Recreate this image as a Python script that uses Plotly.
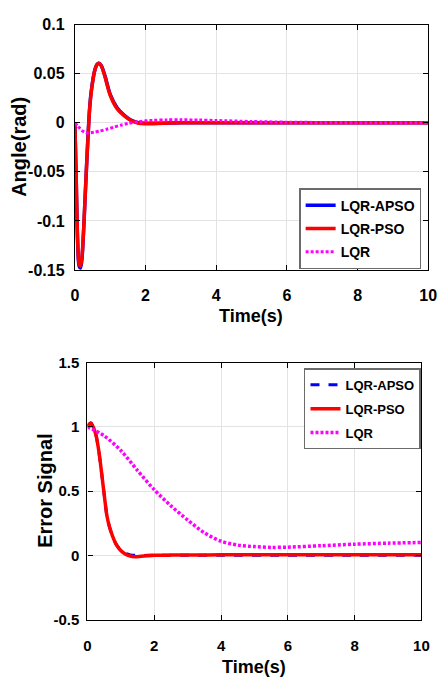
import plotly.graph_objects as go

# ---------------- data ----------------
# Top plot: Angle (rad)
t_ang = [0, 0.04, 0.08, 0.12, 0.16, 0.2, 0.25, 0.3, 0.36, 0.42, 0.47, 0.56, 0.62, 0.68,
         0.75, 0.85, 1.0, 1.2, 1.4, 1.6, 1.8, 2.0, 2.5, 3, 4, 6, 8, 10]
ang_apso = [0, -0.062, -0.124, -0.146, -0.148, -0.139, -0.108, -0.068, -0.022, 0.016, 0.034, 0.053, 0.059, 0.0605,
            0.058, 0.048, 0.029, 0.015, 0.0075, 0.0025, 0.0, -0.0005, -0.0004, 0, 0, 0, 0, 0]
ang_pso = [0, -0.060, -0.121, -0.144, -0.146, -0.137, -0.107, -0.068, -0.023, 0.015, 0.033, 0.053, 0.059, 0.0605,
           0.058, 0.047, 0.028, 0.014, 0.007, 0.002, -0.0005, -0.001, -0.0005, 0, 0, 0, 0, 0]
t_ang_lqr = [0, 0.1, 0.2, 0.3, 0.37, 0.45, 0.55, 0.7, 0.9, 1.1, 1.3, 1.5, 1.8, 2.2, 2.6, 3.0, 3.5, 4, 5, 6, 7, 8, 10]
ang_lqr = [0, -0.004, -0.008, -0.0100, -0.0104, -0.0102, -0.0096, -0.0085, -0.0066, -0.0045, -0.0025, -0.0008,
           0.0012, 0.0024, 0.0029, 0.003, 0.0028, 0.0023, 0.0013, 0.0006, 0.0003, 0.0001, 0]

# Bottom plot: Error signal
t_err = [0, 0.05, 0.1, 0.15, 0.2, 0.26, 0.34, 0.4, 0.46, 0.52, 0.58, 0.66, 0.75, 0.85, 0.94, 1.05,
         1.15, 1.28, 1.42, 1.6, 1.8, 2.0, 2.5, 3, 4, 6, 8, 10]
err_apso = [1.0, 1.02, 1.03, 1.01, 0.98, 0.93, 0.81, 0.69, 0.56, 0.43, 0.31, 0.22, 0.15, 0.09, 0.057, 0.03,
            0.014, 0.004, 0.0, -0.001, 0.0, 0.0, 0.0, 0.0, 0.0, 0.0, 0.0, 0.0]
err_pso = [1.0, 1.02, 1.03, 1.01, 0.98, 0.93, 0.81, 0.69, 0.56, 0.43, 0.31, 0.22, 0.15, 0.09, 0.055, 0.025,
           0.008, -0.005, -0.01, -0.007, -0.003, 0.0, 0.002, 0.003, 0.004, 0.004, 0.004, 0.004]
t_err_lqr = [0, 0.5, 1.0, 1.5, 2.0, 2.5, 3.0, 3.5, 4.0, 4.5, 5.0, 5.5, 6.0, 7.0, 8.0, 9.0, 10.0]
err_lqr = [1.0, 0.93, 0.815, 0.66, 0.51, 0.385, 0.275, 0.175, 0.11, 0.08, 0.068, 0.062, 0.064, 0.075, 0.087, 0.095, 0.10]

x_ticks = [0, 2, 4, 6, 8, 10]
ang_ticks = [-0.15, -0.1, -0.05, 0, 0.05, 0.1]
ang_ticktext = ["-0.15", "-0.1", "-0.05", "0", "0.05", "0.1"]
err_ticks = [-0.5, 0, 0.5, 1, 1.5]
err_ticktext = ["-0.5", "0", "0.5", "1", "1.5"]

names = ["LQR-APSO", "LQR-PSO", "LQR"]

# ---------------- figure ----------------
W, H = 446, 690
ARIAL = "Liberation Sans, Arial, sans-serif"

fig = go.Figure()

# top plot
fig.add_trace(go.Scatter(x=t_ang, y=ang_apso, mode="lines", name=names[0], legend="legend",
                         legendgroup="a1", line=dict(color="#0000ff", width=3.5, shape="spline", smoothing=0.8),
                         xaxis="x", yaxis="y"))
fig.add_trace(go.Scatter(x=t_ang, y=ang_pso, mode="lines", name=names[1], legend="legend",
                         legendgroup="a2", line=dict(color="#ff0000", width=3.5, shape="spline", smoothing=0.8),
                         xaxis="x", yaxis="y"))
fig.add_trace(go.Scatter(x=t_ang_lqr, y=ang_lqr, mode="lines", name=names[2], legend="legend",
                         legendgroup="a3", line=dict(color="#ff00ff", width=3, dash="3px,2px", shape="spline", smoothing=0.8),
                         xaxis="x", yaxis="y"))

# bottom plot
fig.add_trace(go.Scatter(x=t_err, y=err_apso, mode="lines", name=names[0], legend="legend2",
                         legendgroup="b1", line=dict(color="#0000ff", width=3, dash="dash", shape="spline", smoothing=0.8),
                         xaxis="x2", yaxis="y2"))
fig.add_trace(go.Scatter(x=t_err, y=err_pso, mode="lines", name=names[1], legend="legend2",
                         legendgroup="b2", line=dict(color="#ff0000", width=3.5, shape="spline", smoothing=0.8),
                         xaxis="x2", yaxis="y2"))
fig.add_trace(go.Scatter(x=t_err_lqr, y=err_lqr, mode="lines", name=names[2], legend="legend2",
                         legendgroup="b3", line=dict(color="#ff00ff", width=3.5, dash="3px,2px", shape="spline", smoothing=0.8),
                         xaxis="x2", yaxis="y2"))

axis_common = dict(showline=True, linecolor="black", linewidth=1.2, mirror="ticks",
                   ticks="inside", ticklen=5, tickcolor="black", tickwidth=1,
                   showgrid=True, gridcolor="#e3e3e3", gridwidth=1, zeroline=False)

fig.update_layout(
    width=W, height=H,
    margin=dict(l=0, r=0, t=0, b=0),
    paper_bgcolor="white", plot_bgcolor="white",
    showlegend=True,
    xaxis=dict(domain=[73 / W, 437 / W], range=[0, 10], tickvals=x_ticks, anchor="y",
               tickfont=dict(family=ARIAL, size=16, color="black", weight="bold"),
               ticklabelstandoff=11, **axis_common),
    yaxis=dict(domain=[1 - 268 / H, 1 - 16 / H], range=[-0.15, 0.1], tickvals=ang_ticks,
               ticktext=ang_ticktext, anchor="x",
               tickfont=dict(family=ARIAL, size=16, color="black", weight="bold"),
               ticklabelstandoff=6, **axis_common),
    xaxis2=dict(domain=[86 / W, 430 / W], range=[0, 10], tickvals=x_ticks, anchor="y2",
                tickfont=dict(family=ARIAL, size=15, color="black", weight="bold"),
                ticklabelstandoff=12, **axis_common),
    yaxis2=dict(domain=[1 - 627 / H, 1 - 363 / H], range=[-0.5, 1.5], tickvals=err_ticks,
                ticktext=err_ticktext, anchor="x2",
                tickfont=dict(family=ARIAL, size=15, color="black", weight="bold"),
                ticklabelstandoff=4, **axis_common),
    legend=dict(x=304 / W, y=1 - 184 / H, xanchor="left", yanchor="top",
                bgcolor="white", bordercolor="#6b6b6b", borderwidth=1.5,
                font=dict(family=ARIAL, size=14, color="black", weight="bold"),
                traceorder="grouped", tracegroupgap=2, itemwidth=30),
    legend2=dict(x=309 / W, y=1 - 369 / H, xanchor="left", yanchor="top",
                 bgcolor="white", bordercolor="#6b6b6b", borderwidth=1.5,
                 font=dict(family=ARIAL, size=13, color="black", weight="bold"),
                 traceorder="grouped", tracegroupgap=4, itemwidth=30),
)

# axis titles
fig.add_annotation(text="Time(s)", x=254 / W, y=1 - 315 / H, xref="paper", yref="paper",
                   showarrow=False, xanchor="center", yanchor="middle",
                   font=dict(family=ARIAL, size=18, color="black", weight="bold"))
fig.add_annotation(text="Angle(rad)", x=16 / W, y=1 - 142 / H, xref="paper", yref="paper",
                   showarrow=False, xanchor="center", yanchor="middle", textangle=-90,
                   font=dict(family=ARIAL, size=20, color="black", weight="bold"))
fig.add_annotation(text="Time(s)", x=257 / W, y=1 - 676 / H, xref="paper", yref="paper",
                   showarrow=False, xanchor="center", yanchor="middle",
                   font=dict(family=ARIAL, size=18, color="black", weight="bold"))
fig.add_annotation(text="Error Signal", x=42 / W, y=1 - 495 / H, xref="paper", yref="paper",
                   showarrow=False, xanchor="center", yanchor="middle", textangle=-90,
                   font=dict(family=ARIAL, size=20, color="black", weight="bold"))

# the page's default 8px body margin would shift the figure; remove it
fig.write_html("out.html", config={"displayModeBar": False},
               post_script="document.body.style.margin='0';document.body.style.overflow='hidden';")
